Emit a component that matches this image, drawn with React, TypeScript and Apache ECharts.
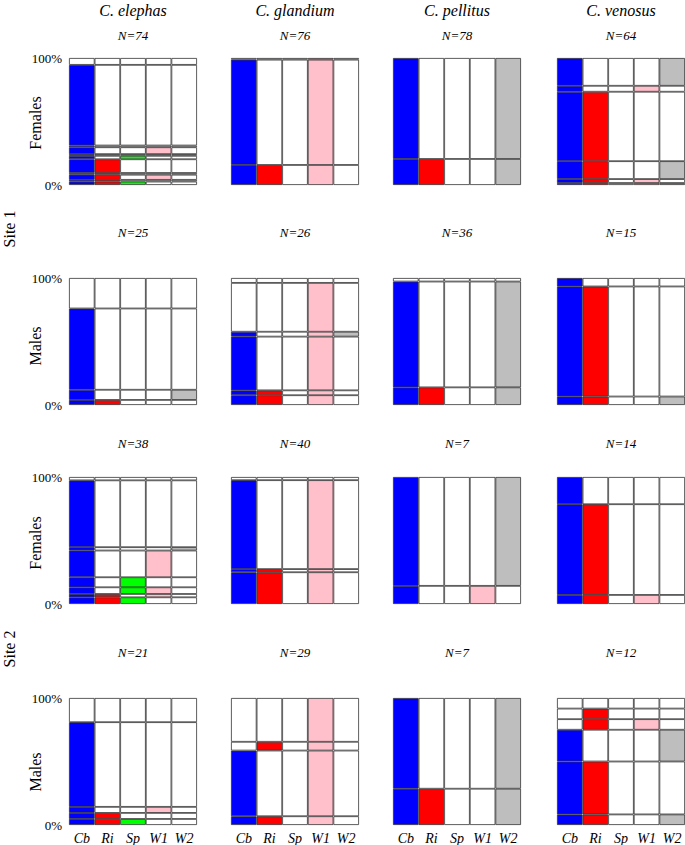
import React, { useEffect, useRef } from "react";
import * as echarts from "echarts";

// ---- data ----
const categories = ["Cb", "Ri", "Sp", "W1", "W2"];
const categoryColors = ["#0000FF", "#FF0000", "#00FF00", "#FFC0CB", "#BEBEBE"];
const species = ["C. elephas", "C. glandium", "C. pellitus", "C. venosus"];
const rowLabels = ["Females", "Males", "Females", "Males"];
const siteLabels = ["Site 1", "Site 2"];
const sampleSizes = [
  [74, 76, 78, 64],
  [25, 26, 36, 15],
  [38, 40, 7, 14],
  [21, 29, 7, 12],
];

// bands from bottom to top: [number of individuals, diet pattern Cb Ri Sp W1 W2]
const elephasF1: [number, string][] = [[2, "11100"], [1, "11000"], [3, "11010"], [1, "11000"], [8, "11000"], [2, "10100"], [1, "10000"], [4, "10010"], [1, "10000"], [47, "10000"], [4, "00000"]];
const glandiumF1: [number, string][] = [[12, "11010"], [63, "10010"], [1, "00010"]];
const pellitusF1: [number, string][] = [[16, "11001"], [62, "10001"]];
const venosusF1: [number, string][] = [[1, "11011"], [2, "11010"], [9, "11001"], [35, "11000"], [3, "10010"], [14, "10001"]];

const elephasM1: [number, string][] = [[1, "11000"], [2, "10001"], [16, "10000"], [6, "00000"]];
const glandiumM1: [number, string][] = [[2, "11010"], [1, "11010"], [11, "10010"], [1, "10011"], [10, "00010"], [1, "00000"]];
const pellitusM1: [number, string][] = [[5, "11001"], [30, "10001"], [1, "00000"]];
const venosusM1: [number, string][] = [[1, "11001"], [13, "11000"], [1, "10000"]];

const elephasF2: [number, string][] = [[2, "11100"], [1, "11010"], [2, "10110"], [3, "10100"], [8, "10010"], [1, "10001"], [20, "10000"], [1, "00000"]];
const glandiumF2: [number, string][] = [[10, "11010"], [1, "11010"], [28, "10010"], [1, "00000"]];
const pellitusF2: [number, string][] = [[1, "10010"], [6, "10001"]];
const venosusF2: [number, string][] = [[1, "11010"], [10, "11000"], [3, "10000"]];

const elephasM2: [number, string][] = [[1, "11100"], [1, "11000"], [1, "10010"], [14, "10000"], [4, "00000"]];
const glandiumM2: [number, string][] = [[2, "11010"], [15, "10010"], [2, "01010"], [10, "00010"]];
const pellitusM2: [number, string][] = [[2, "11001"], [5, "10001"]];
const venosusM2: [number, string][] = [[1, "11001"], [5, "11000"], [3, "10001"], [1, "01010"], [1, "01000"], [1, "00000"]];

const panels = [
  [elephasF1, glandiumF1, pellitusF1, venosusF1],
  [elephasM1, glandiumM1, pellitusM1, venosusM1],
  [elephasF2, glandiumF2, pellitusF2, venosusF2],
  [elephasM2, glandiumM2, pellitusM2, venosusM2],
];

// ---- layout ----
const FONT = "'Liberation Serif', 'Times New Roman', serif";
const colLeft = [69, 231, 393, 557];
const rowTop = [58, 278, 477, 698];
const PW = 128;
const PH = 127;
const nLabelY = [35, 232, 443, 652];
const rowLabelY = [123, 346, 543, 772];
const siteLabelY = [229, 649];

function buildOption() {
  const grid: any[] = [];
  const xAxis: any[] = [];
  const yAxis: any[] = [];
  const series: any[] = [];
  const graphic: any[] = [];

  for (let r = 0; r < 4; r++) {
    for (let c = 0; c < 4; c++) {
      const i = r * 4 + c;
      grid.push({ left: colLeft[c], top: rowTop[r], width: PW, height: PH });
      xAxis.push({
        type: "category",
        gridIndex: i,
        data: categories,
        axisLine: { show: false },
        axisTick: { show: false },
        axisLabel: {
          show: r === 3,
          fontFamily: FONT,
          fontStyle: "italic",
          fontSize: 14,
          color: "#000",
          margin: 6,
        },
      });
      yAxis.push({
        type: "value",
        gridIndex: i,
        min: 0,
        max: 100,
        interval: 100,
        splitLine: { show: false },
        axisLine: { show: false },
        axisTick: { show: false },
        axisLabel: {
          show: c === 0,
          formatter: "{value}%",
          fontFamily: FONT,
          fontSize: 13,
          color: "#000",
          margin: 7,
        },
      });
      const n = sampleSizes[r][c];
      panels[r][c].forEach(([count, pattern], b) => {
        series.push({
          type: "bar",
          name: `p${i}b${b}`,
          xAxisIndex: i,
          yAxisIndex: i,
          stack: `s${i}`,
          barCategoryGap: "0%",
          silent: true,
          itemStyle: { borderColor: "#333", borderWidth: 0.8 },
          data: categories.map((_, k) => ({
            value: (count / n) * 100,
            itemStyle: { color: pattern[k] === "1" ? categoryColors[k] : "#FFFFFF" },
          })),
        });
      });
      graphic.push({
        type: "text",
        x: colLeft[c] + PW / 2,
        y: nLabelY[r],
        style: {
          text: `N=${n}`,
          fontFamily: FONT,
          fontStyle: "italic",
          fontSize: 13,
          fill: "#000",
          align: "center",
          verticalAlign: "middle",
        },
      });
    }
  }

  species.forEach((s, c) => {
    graphic.push({
      type: "text",
      x: colLeft[c] + PW / 2,
      y: 10,
      style: {
        text: s,
        fontFamily: FONT,
        fontStyle: "italic",
        fontSize: 16,
        fill: "#000",
        align: "center",
        verticalAlign: "middle",
      },
    });
  });

  rowLabels.forEach((t, r) => {
    graphic.push({
      type: "text",
      x: 35,
      y: rowLabelY[r],
      rotation: Math.PI / 2,
      style: {
        text: t,
        fontFamily: FONT,
        fontSize: 16,
        fill: "#000",
        align: "center",
        verticalAlign: "middle",
      },
    });
  });

  siteLabels.forEach((t, s) => {
    graphic.push({
      type: "text",
      x: 9,
      y: siteLabelY[s],
      rotation: Math.PI / 2,
      style: {
        text: t,
        fontFamily: FONT,
        fontSize: 16,
        fill: "#000",
        align: "center",
        verticalAlign: "middle",
      },
    });
  });

  return {
    animation: false,
    backgroundColor: "#FFFFFF",
    grid,
    xAxis,
    yAxis,
    series,
    graphic,
  };
}

export default function App() {
  const ref = useRef<HTMLDivElement>(null);
  useEffect(() => {
    if (!ref.current) return;
    const chart = echarts.init(ref.current, null, { renderer: "svg" });
    chart.setOption(buildOption() as any);
    return () => chart.dispose();
  }, []);
  return (
    <div
      ref={ref}
      style={{ position: "fixed", left: 0, top: 0, width: 685, height: 845, background: "#fff" }}
    />
  );
}
